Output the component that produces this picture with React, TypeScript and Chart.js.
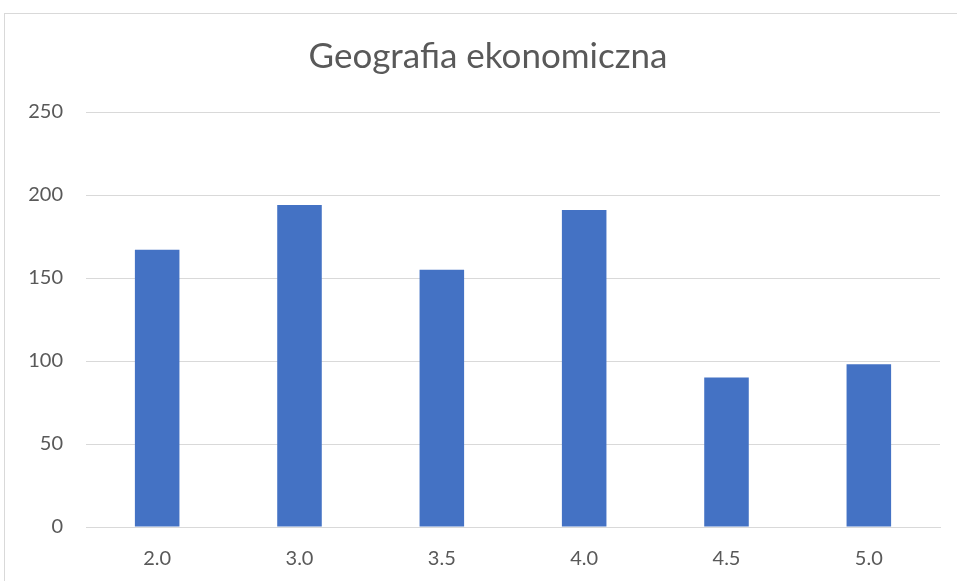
import React, { useEffect, useRef } from "react";
import { Chart, registerables } from "chart.js";

Chart.register(...registerables);

const categories = ["2.0", "3.0", "3.5", "4.0", "4.5", "5.0"];
const values = [167, 194, 155, 191, 90, 98];
const yTicks = [0, 50, 100, 150, 200, 250];
const titleText = "Geografia ekonomiczna";

const framePlugin = {
  id: "frame",
  beforeDraw(chart: any) {
    const ctx = chart.ctx;
    ctx.save();
    ctx.fillStyle = "#ffffff";
    ctx.fillRect(0, 0, chart.width, chart.height);
    ctx.strokeStyle = "#d9d9d9";
    ctx.lineWidth = 1;
    ctx.strokeRect(4.5, 13.5, 2000, 2000);
    ctx.restore();
  },
};

const titlePlugin = {
  id: "offsetTitle",
  afterDraw(chart: any) {
    const ctx = chart.ctx;
    ctx.save();
    ctx.font = "35px Lato";
    ctx.fillStyle = "#595959";
    ctx.textAlign = "center";
    ctx.textBaseline = "middle";
    ctx.fillText(titleText, 488, 57);
    ctx.restore();
  },
};

export default function App() {
  const ref = useRef<HTMLCanvasElement | null>(null);
  useEffect(() => {
    if (!ref.current) return;
    const chart = new Chart(ref.current, {
      type: "bar",
      data: {
        labels: categories,
        datasets: [
          {
            data: values,
            backgroundColor: "#4472c4",
            borderWidth: 0,
            categoryPercentage: 1,
            barPercentage: 0.313,
          },
        ],
      },
      options: {
        animation: false,
        responsive: false,
        layout: { padding: { left: 0, right: 17, top: 112, bottom: 0 } },
        plugins: {
          legend: { display: false },
          tooltip: { enabled: false },
          title: { display: false },
        },
        scales: {
          x: {
            grid: { display: false },
            border: { display: true, color: "#d9d9d9", width: 1 },
            ticks: {
              color: "#595959",
              font: { family: "Lato", size: 20 },
              padding: 12,
              maxRotation: 0,
            },
            afterFit(scale: any) {
              scale.height = 54;
            },
          },
          y: {
            min: 0,
            max: 250,
            grid: { color: "#d9d9d9", lineWidth: 1, drawTicks: false },
            border: { display: false },
            afterBuildTicks(scale: any) {
              scale.ticks = yTicks.map((v) => ({ value: v }));
            },
            ticks: {
              color: "#595959",
              font: { family: "Lato", size: 20 },
              padding: 23,
            },
            afterFit(scale: any) {
              scale.width = 86;
            },
          },
        },
      },
      plugins: [framePlugin, titlePlugin],
    });
    return () => chart.destroy();
  }, []);
  return (
    <div style={{ position: "fixed", left: 0, top: 0, width: 957, height: 581 }}>
      <canvas ref={ref} width={957} height={581} style={{ display: "block" }} />
    </div>
  );
}
